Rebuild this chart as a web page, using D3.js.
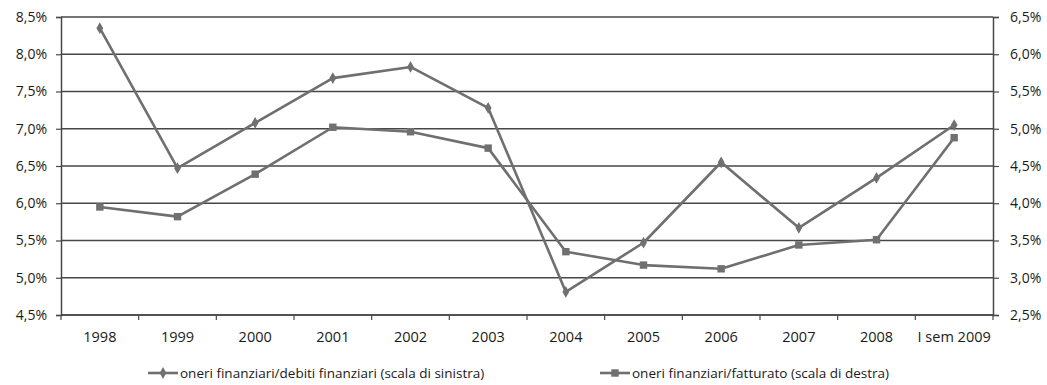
<!DOCTYPE html>
<html>
<head>
<meta charset="utf-8">
<script src="https://cdn.jsdelivr.net/npm/d3@7"></script>
<style>
  html, body { margin: 0; padding: 0; background: #fff; }
  svg { display: block; }
  text { font-family: "Open Sans", "Noto Sans", sans-serif; fill: #1a1a1a; }
</style>
</head>
<body>
<svg id="chart" width="1047" height="385"></svg>
<script>
// Categories along the x axis
const categories = ["1998", "1999", "2000", "2001", "2002", "2003", "2004", "2005", "2006", "2007", "2008", "I sem 2009"];

// oneri finanziari / debiti finanziari (left scale, %)
const debtSeries = [8.35, 6.47, 7.08, 7.68, 7.83, 7.28, 4.81, 5.47, 6.55, 5.67, 6.34, 7.05];

// oneri finanziari / fatturato (right scale, %)
const revenueSeries = [3.95, 3.82, 4.39, 5.02, 4.96, 4.74, 3.35, 3.17, 3.12, 3.44, 3.51, 4.88];

// Axis tick values
const leftTicks = [4.5, 5.0, 5.5, 6.0, 6.5, 7.0, 7.5, 8.0, 8.5];
const rightTicks = [2.5, 3.0, 3.5, 4.0, 4.5, 5.0, 5.5, 6.0, 6.5];

const legendLabels = [
  "oneri finanziari/debiti finanziari (scala di sinistra)",
  "oneri finanziari/fatturato (scala di destra)"
];

const svg = d3.select("#chart");
const plot = { left: 61, right: 993, top: 17, bottom: 315 };
const gridColor = "#474747";
const lineColor = "#6f6f6f";

const x = d3.scaleBand().domain(categories).range([plot.left, plot.right]);
const yLeft = d3.scaleLinear().domain([4.5, 8.5]).range([plot.bottom, plot.top]);
const yRight = d3.scaleLinear().domain([2.5, 6.5]).range([plot.bottom, plot.top]);

const fmt = v => v.toFixed(1).replace(".", ",") + "%";

// Horizontal gridlines
svg.append("g")
  .selectAll("line")
  .data(leftTicks)
  .join("line")
  .attr("x1", plot.left).attr("x2", plot.right)
  .attr("y1", d => yLeft(d)).attr("y2", d => yLeft(d))
  .attr("stroke", gridColor).attr("stroke-width", 1.4);

// Left axis
const leftAxis = svg.append("g")
  .attr("transform", `translate(${plot.left},0)`)
  .call(d3.axisLeft(yLeft).tickValues(leftTicks).tickFormat(fmt).tickSize(5).tickPadding(9));

// Right axis
const rightAxis = svg.append("g")
  .attr("transform", `translate(${plot.right},0)`)
  .call(d3.axisRight(yRight).tickValues(rightTicks).tickFormat(fmt).tickSize(6).tickPadding(11));

// Bottom axis with ticks on category boundaries
const bottomAxis = svg.append("g")
  .attr("transform", `translate(0,${plot.bottom})`)
  .call(d3.axisBottom(x).tickSize(0).tickPadding(17));

svg.append("g")
  .selectAll("line")
  .data(d3.range(categories.length + 1))
  .join("line")
  .attr("x1", i => plot.left + i * x.step())
  .attr("x2", i => plot.left + i * x.step())
  .attr("y1", plot.bottom).attr("y2", plot.bottom + 5)
  .attr("stroke", gridColor).attr("stroke-width", 1.2);

[leftAxis, rightAxis, bottomAxis].forEach(g => {
  g.select(".domain").attr("stroke", gridColor).attr("stroke-width", 1.5);
  g.selectAll(".tick line").attr("stroke", gridColor).attr("stroke-width", 1.2);
  g.selectAll(".tick text")
    .attr("font-family", "'Open Sans', 'Noto Sans', sans-serif")
    .attr("font-size", 14)
    .attr("fill", "#1a1a1a");
});
bottomAxis.selectAll(".tick text").attr("font-size", 14.5);
bottomAxis.select(".domain").attr("d", `M${plot.left},0H${plot.right}`);

const cx = d => x(d) + x.bandwidth() / 2;

// Series lines
const lineLeft = d3.line().x((d, i) => cx(categories[i])).y(d => yLeft(d));
const lineRight = d3.line().x((d, i) => cx(categories[i])).y(d => yRight(d));

svg.append("path").datum(revenueSeries)
  .attr("d", lineRight).attr("fill", "none")
  .attr("stroke", lineColor).attr("stroke-width", 2.6).attr("stroke-linejoin", "round");

svg.append("path").datum(debtSeries)
  .attr("d", lineLeft).attr("fill", "none")
  .attr("stroke", lineColor).attr("stroke-width", 2.6).attr("stroke-linejoin", "round");

const diamond = d3.symbol().type(d3.symbolDiamond).size(40);
const square = d3.symbol().type(d3.symbolSquare).size(55);

svg.append("g").selectAll("path")
  .data(revenueSeries)
  .join("path")
  .attr("d", square())
  .attr("transform", (d, i) => `translate(${cx(categories[i])},${yRight(d)})`)
  .attr("fill", "#707070");

svg.append("g").selectAll("path")
  .data(debtSeries)
  .join("path")
  .attr("d", diamond())
  .attr("transform", (d, i) => `translate(${cx(categories[i])},${yLeft(d)})`)
  .attr("fill", "#707070");

// Legend
const legendY = 373;
const legendItems = [
  { x: 148, label: legendLabels[0], marker: diamond },
  { x: 600, label: legendLabels[1], marker: square }
];
const lg = svg.append("g").selectAll("g").data(legendItems).join("g")
  .attr("transform", d => `translate(${d.x},${legendY})`);
lg.append("line").attr("x1", 0).attr("x2", 30).attr("y1", 0).attr("y2", 0)
  .attr("stroke", lineColor).attr("stroke-width", 2.6);
lg.append("path").attr("d", d => d.marker()).attr("transform", "translate(15,0)").attr("fill", "#707070");
lg.append("text").attr("x", 32).attr("y", 0).attr("dy", "0.35em")
  .attr("font-size", 13.5).text(d => d.label);
</script>
</body>
</html>
